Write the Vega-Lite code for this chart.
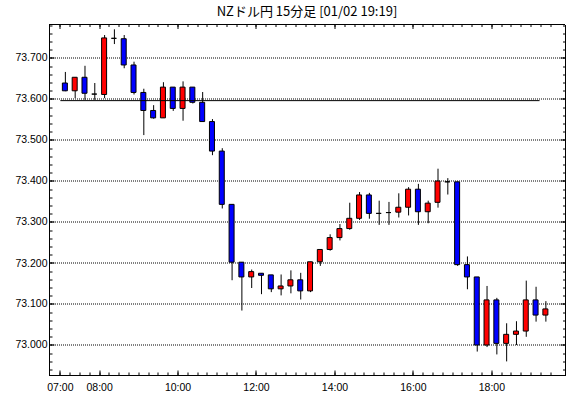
{
  "$schema": "https://vega.github.io/schema/vega-lite/v6.json",
  "width": 516,
  "height": 351,
  "autosize": {"type": "none"},
  "padding": {"left": 49, "top": 24.5, "right": 5, "bottom": 22.5},
  "background": "white",
  "title": {"text": "NZドル円 15分足 [01/02 19:19]", "font": "Noto Sans CJK JP", "fontSize": 13, "fontWeight": "normal", "color": "black", "anchor": "middle", "offset": 5},
  "config": {
    "view": {"stroke": null},
    "axis": {"labelFont": "Liberation Sans", "labelFontSize": 10.5, "labelColor": "black", "tickColor": "black", "domain": false, "domainColor": "black", "domainWidth": 1, "labelFlush": false, "labelOverlap": false, "grid": false, "tickWidth": 1}
  },
  "datasets": {
    "candles": [
      {"t": "2025-01-02T07:00Z", "o": 73.639, "h": 73.666, "l": 73.619, "c": 73.620},
      {"t": "2025-01-02T07:15Z", "o": 73.620, "h": 73.653, "l": 73.602, "c": 73.653},
      {"t": "2025-01-02T07:30Z", "o": 73.653, "h": 73.681, "l": 73.598, "c": 73.614},
      {"t": "2025-01-02T07:45Z", "o": 73.612, "h": 73.639, "l": 73.598, "c": 73.612},
      {"t": "2025-01-02T08:00Z", "o": 73.611, "h": 73.756, "l": 73.602, "c": 73.749},
      {"t": "2025-01-02T08:15Z", "o": 73.748, "h": 73.770, "l": 73.734, "c": 73.748},
      {"t": "2025-01-02T08:30Z", "o": 73.747, "h": 73.756, "l": 73.675, "c": 73.683},
      {"t": "2025-01-02T08:45Z", "o": 73.683, "h": 73.691, "l": 73.611, "c": 73.616},
      {"t": "2025-01-02T09:00Z", "o": 73.616, "h": 73.625, "l": 73.512, "c": 73.572},
      {"t": "2025-01-02T09:15Z", "o": 73.572, "h": 73.585, "l": 73.552, "c": 73.554},
      {"t": "2025-01-02T09:30Z", "o": 73.554, "h": 73.641, "l": 73.554, "c": 73.629},
      {"t": "2025-01-02T09:45Z", "o": 73.629, "h": 73.629, "l": 73.571, "c": 73.577},
      {"t": "2025-01-02T10:00Z", "o": 73.577, "h": 73.643, "l": 73.547, "c": 73.629},
      {"t": "2025-01-02T10:15Z", "o": 73.629, "h": 73.629, "l": 73.589, "c": 73.592},
      {"t": "2025-01-02T10:30Z", "o": 73.592, "h": 73.617, "l": 73.545, "c": 73.545},
      {"t": "2025-01-02T10:45Z", "o": 73.545, "h": 73.551, "l": 73.463, "c": 73.473},
      {"t": "2025-01-02T11:00Z", "o": 73.473, "h": 73.480, "l": 73.333, "c": 73.343},
      {"t": "2025-01-02T11:15Z", "o": 73.343, "h": 73.343, "l": 73.158, "c": 73.202},
      {"t": "2025-01-02T11:30Z", "o": 73.202, "h": 73.202, "l": 73.084, "c": 73.166},
      {"t": "2025-01-02T11:45Z", "o": 73.166, "h": 73.184, "l": 73.139, "c": 73.179},
      {"t": "2025-01-02T12:00Z", "o": 73.175, "h": 73.175, "l": 73.124, "c": 73.170},
      {"t": "2025-01-02T12:15Z", "o": 73.171, "h": 73.171, "l": 73.129, "c": 73.137},
      {"t": "2025-01-02T12:30Z", "o": 73.137, "h": 73.172, "l": 73.121, "c": 73.144},
      {"t": "2025-01-02T12:45Z", "o": 73.144, "h": 73.182, "l": 73.126, "c": 73.159},
      {"t": "2025-01-02T13:00Z", "o": 73.159, "h": 73.176, "l": 73.111, "c": 73.132},
      {"t": "2025-01-02T13:15Z", "o": 73.132, "h": 73.203, "l": 73.129, "c": 73.203},
      {"t": "2025-01-02T13:30Z", "o": 73.203, "h": 73.233, "l": 73.193, "c": 73.233},
      {"t": "2025-01-02T13:45Z", "o": 73.233, "h": 73.270, "l": 73.230, "c": 73.262},
      {"t": "2025-01-02T14:00Z", "o": 73.262, "h": 73.295, "l": 73.255, "c": 73.284},
      {"t": "2025-01-02T14:15Z", "o": 73.284, "h": 73.347, "l": 73.281, "c": 73.309},
      {"t": "2025-01-02T14:30Z", "o": 73.309, "h": 73.373, "l": 73.305, "c": 73.366},
      {"t": "2025-01-02T14:45Z", "o": 73.366, "h": 73.371, "l": 73.308, "c": 73.321},
      {"t": "2025-01-02T15:00Z", "o": 73.321, "h": 73.352, "l": 73.293, "c": 73.321},
      {"t": "2025-01-02T15:15Z", "o": 73.323, "h": 73.349, "l": 73.293, "c": 73.323},
      {"t": "2025-01-02T15:30Z", "o": 73.324, "h": 73.370, "l": 73.311, "c": 73.336},
      {"t": "2025-01-02T15:45Z", "o": 73.336, "h": 73.385, "l": 73.316, "c": 73.380},
      {"t": "2025-01-02T16:00Z", "o": 73.380, "h": 73.393, "l": 73.293, "c": 73.325},
      {"t": "2025-01-02T16:15Z", "o": 73.325, "h": 73.352, "l": 73.297, "c": 73.346},
      {"t": "2025-01-02T16:30Z", "o": 73.348, "h": 73.430, "l": 73.335, "c": 73.400},
      {"t": "2025-01-02T16:45Z", "o": 73.398, "h": 73.407, "l": 73.367, "c": 73.398},
      {"t": "2025-01-02T17:00Z", "o": 73.398, "h": 73.398, "l": 73.193, "c": 73.196},
      {"t": "2025-01-02T17:15Z", "o": 73.196, "h": 73.216, "l": 73.136, "c": 73.166},
      {"t": "2025-01-02T17:30Z", "o": 73.166, "h": 73.166, "l": 72.984, "c": 73.000},
      {"t": "2025-01-02T17:45Z", "o": 73.000, "h": 73.144, "l": 72.995, "c": 73.110},
      {"t": "2025-01-02T18:00Z", "o": 73.110, "h": 73.115, "l": 72.977, "c": 73.004},
      {"t": "2025-01-02T18:15Z", "o": 73.004, "h": 73.053, "l": 72.960, "c": 73.026},
      {"t": "2025-01-02T18:30Z", "o": 73.026, "h": 73.058, "l": 73.000, "c": 73.034},
      {"t": "2025-01-02T18:45Z", "o": 73.034, "h": 73.157, "l": 73.020, "c": 73.110},
      {"t": "2025-01-02T19:00Z", "o": 73.110, "h": 73.142, "l": 73.057, "c": 73.073},
      {"t": "2025-01-02T19:15Z", "o": 73.073, "h": 73.107, "l": 73.057, "c": 73.088}
    ],
    "ref": [
      {"t1": "2025-01-02T07:00Z", "t2": "2025-01-02T19:13Z", "v": 73.596}
    ]
  },
  "resolve": {"axis": {"x": "independent", "y": "independent"}},
  "layer": [
    {
      "data": {"name": "candles"},
      "mark": {"type": "rule", "color": "black", "strokeWidth": 1, "xOffset": 5},
      "encoding": {
        "x": {"field": "t", "type": "temporal",
          "scale": {"type": "utc", "domain": [1735800615000, 1735847055000], "nice": false},
          "axis": {"orient": "bottom", "translate": 0, "values": [1735801200000,1735802100000,1735803000000,1735803900000,1735804800000,1735805700000,1735806600000,1735807500000,1735808400000,1735809300000,1735810200000,1735811100000,1735812000000,1735812900000,1735813800000,1735814700000,1735815600000,1735816500000,1735817400000,1735818300000,1735819200000,1735820100000,1735821000000,1735821900000,1735822800000,1735823700000,1735824600000,1735825500000,1735826400000,1735827300000,1735828200000,1735829100000,1735830000000,1735830900000,1735831800000,1735832700000,1735833600000,1735834500000,1735835400000,1735836300000,1735837200000,1735838100000,1735839000000,1735839900000,1735840800000,1735841700000,1735842600000,1735843500000,1735844400000,1735845300000,1735846200000], "labels": false, "tickSize": -3, "title": null}},
        "y": {"field": "l", "type": "quantitative",
          "scale": {"domain": [72.9256097, 73.7817073], "nice": false, "zero": false},
          "axis": {"orient": "left", "values": [72.94,72.96,72.98,73.0,73.02,73.04,73.06,73.08,73.1,73.12,73.14,73.16,73.18,73.2,73.22,73.24,73.26,73.28,73.3,73.32,73.34,73.36,73.38,73.4,73.42,73.44,73.46,73.48,73.5,73.52,73.54,73.56,73.58,73.6,73.62,73.64,73.66,73.68,73.7,73.72,73.74,73.76,73.78], "labels": false, "tickSize": -3, "title": null}},
        "y2": {"field": "h"}
      }
    },
    {
      "data": {"name": "candles"},
      "transform": [{"filter": "datum.c >= datum.o"}],
      "mark": {"type": "bar", "size": 5, "fill": "#ff0000", "stroke": "black", "strokeWidth": 1, "xOffset": 4.5},
      "encoding": {
        "x": {"field": "t", "type": "temporal",
          "scale": {"type": "utc", "domain": [1735800615000, 1735847055000], "nice": false},
          "axis": {"orient": "top", "translate": 0, "values": [1735801200000,1735802100000,1735803000000,1735803900000,1735804800000,1735805700000,1735806600000,1735807500000,1735808400000,1735809300000,1735810200000,1735811100000,1735812000000,1735812900000,1735813800000,1735814700000,1735815600000,1735816500000,1735817400000,1735818300000,1735819200000,1735820100000,1735821000000,1735821900000,1735822800000,1735823700000,1735824600000,1735825500000,1735826400000,1735827300000,1735828200000,1735829100000,1735830000000,1735830900000,1735831800000,1735832700000,1735833600000,1735834500000,1735835400000,1735836300000,1735837200000,1735838100000,1735839000000,1735839900000,1735840800000,1735841700000,1735842600000,1735843500000,1735844400000,1735845300000,1735846200000], "labels": false, "tickSize": -2.5, "title": null}},
        "y": {"field": "o", "type": "quantitative",
          "scale": {"domain": [72.9256097, 73.7817073], "nice": false, "zero": false},
          "axis": {"orient": "right", "values": [72.94,72.96,72.98,73.0,73.02,73.04,73.06,73.08,73.1,73.12,73.14,73.16,73.18,73.2,73.22,73.24,73.26,73.28,73.3,73.32,73.34,73.36,73.38,73.4,73.42,73.44,73.46,73.48,73.5,73.52,73.54,73.56,73.58,73.6,73.62,73.64,73.66,73.68,73.7,73.72,73.74,73.76,73.78], "labels": false, "tickSize": -2.5, "title": null}},
        "y2": {"field": "c"}
      }
    },
    {
      "data": {"name": "candles"},
      "transform": [{"filter": "datum.c < datum.o"}],
      "mark": {"type": "bar", "size": 5, "fill": "#0000ff", "stroke": "black", "strokeWidth": 1, "xOffset": 4.5},
      "encoding": {
        "x": {"field": "t", "type": "temporal",
          "scale": {"type": "utc", "domain": [1735800615000, 1735847055000], "nice": false},
          "axis": {"orient": "top", "translate": 0, "domain": true, "values": [1735801200000,1735804800000,1735812000000,1735819200000,1735826400000,1735833600000,1735840800000], "labels": false, "tickSize": -4.5, "title": null}},
        "y": {"field": "o", "type": "quantitative",
          "scale": {"domain": [72.9256097, 73.7817073], "nice": false, "zero": false},
          "axis": {"orient": "right", "domain": true, "values": [73.0,73.1,73.2,73.3,73.4,73.5,73.6,73.7], "labels": false, "tickSize": -5, "title": null}},
        "y2": {"field": "c"}
      }
    },
    {
      "data": {"name": "ref"},
      "mark": {"type": "rule", "color": "black", "strokeWidth": 1},
      "encoding": {
        "x": {"field": "t1", "type": "temporal",
          "scale": {"type": "utc", "domain": [1735800615000, 1735847055000], "nice": false},
          "axis": {"orient": "bottom", "translate": 0, "domain": true, "values": [1735801200000,1735804800000,1735812000000,1735819200000,1735826400000,1735833600000,1735840800000], "labelExpr": "utcFormat(datum.value, '%H:%M')", "tickSize": -5, "labelPadding": 12, "title": null}},
        "x2": {"field": "t2"},
        "y": {"field": "v", "type": "quantitative",
          "scale": {"domain": [72.9256097, 73.7817073], "nice": false, "zero": false},
          "axis": {"orient": "left", "domain": true, "values": [73.0,73.1,73.2,73.3,73.4,73.5,73.6,73.7], "format": ".3f", "tickSize": -5, "labelPadding": 7, "grid": true, "gridColor": "black", "gridDash": [1, 1], "gridDashOffset": 0.5, "gridWidth": 1, "gridOpacity": 1, "title": null}}
      }
    }
  ]
}
